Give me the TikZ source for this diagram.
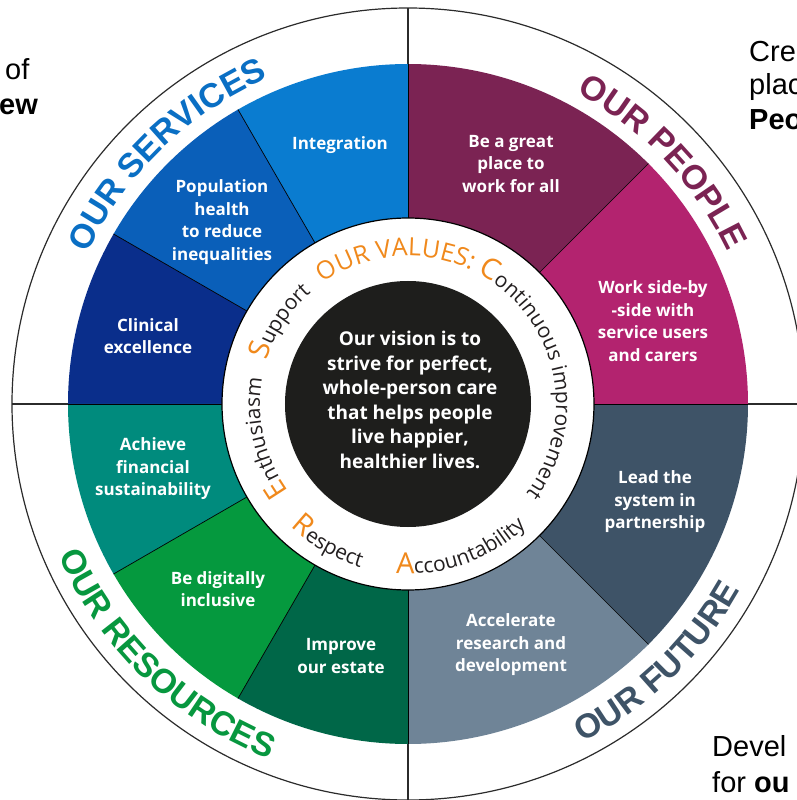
\documentclass[tikz,border=0pt]{standalone}
\usepackage{fontspec}
\setmainfont{Open Sans}
\newfontfamily\ringfont{Liberation Sans}
\newfontfamily\sidefont{Liberation Sans}
\usetikzlibrary{decorations.text}

% sector colours
\definecolor{cIntegration}{HTML}{0A7CD0}
\definecolor{cPopulation}{HTML}{0A5FB9}
\definecolor{cClinical}{HTML}{0A2E8B}
\definecolor{cFinancial}{HTML}{008B7D}
\definecolor{cDigital}{HTML}{05993E}
\definecolor{cEstate}{HTML}{006748}
\definecolor{cResearch}{HTML}{6F8497}
\definecolor{cSystem}{HTML}{3E5367}
\definecolor{cSideBySide}{HTML}{B3236F}
\definecolor{cGreatPlace}{HTML}{7B2353}
% heading colours
\definecolor{hServices}{HTML}{0A6FC4}
\definecolor{hPeople}{HTML}{7B2353}
\definecolor{hResources}{HTML}{07973F}
\definecolor{hFuture}{HTML}{3E5367}
% values ring
\definecolor{vOrange}{HTML}{F0891C}
\definecolor{vDark}{HTML}{231F20}
\definecolor{coreBlack}{HTML}{1E1E1C}
\definecolor{rimGrey}{HTML}{2B2B2B}

\newcommand\vInitial{\fontsize{29pt}{29pt}\selectfont\color{vOrange}}
\newcommand\vHead{\fontsize{25pt}{25pt}\selectfont\color{vOrange}}
\newcommand\vWord{\fontsize{21pt}{21pt}\selectfont\color{vDark}}
\newcommand\ringHead{\ringfont\bfseries\fontsize{34pt}{34pt}\selectfont}

\tikzset{
  seclabel/.style={text=white, font=\fontsize{17pt}{22.5pt}\selectfont\bfseries,
    align=center, inner sep=0pt},
  corelabel/.style={text=white, font=\fontsize{19pt}{24.5pt}\selectfont\bfseries,
    align=center, inner sep=0pt},
  sidetext/.style={font=\sidefont\fontsize{29pt}{29pt}\selectfont, anchor=base west,
    inner sep=0pt, text=black},
  divider/.style={draw=black, line width=0.7pt},
  rim/.style={draw=rimGrey, line width=1.2pt},
}

% ring sector between two angles
\newcommand\sector[3]{%
  \fill[#1] (#2:186pt) arc[start angle=#2, end angle=#3, radius=186pt]
    -- (#3:340pt) arc[start angle=#3, end angle=#2, radius=340pt] -- cycle;}

\begin{document}
\begin{tikzpicture}[x=1pt,y=1pt]
\useasboundingbox (-408,-396) rectangle (389,404);
\clip (-408,-396) rectangle (389,404);
\fill[white] (-408,-396) rectangle (389,404);

% outer rim and quadrant lines
\draw[rim] (0,0) circle[radius=396pt];
\foreach \a in {0,90,180,270} \draw[rim] (\a:340pt) -- (\a:396pt);

% coloured ring
\sector{cIntegration}{90}{120}
\sector{cPopulation}{120}{150}
\sector{cClinical}{150}{180}
\sector{cFinancial}{180}{210}
\sector{cDigital}{210}{240}
\sector{cEstate}{240}{270}
\sector{cResearch}{270}{315}
\sector{cSystem}{315}{360}
\sector{cSideBySide}{0}{45}
\sector{cGreatPlace}{45}{90}
\foreach \a in {0,45,90,120,150,180,210,240,270,315}
  \draw[divider] (\a:186pt) -- (\a:340pt);

% values ring and core
\fill[white] (0,0) circle[radius=186pt];
\draw[black, line width=1.2pt] (0,0) circle[radius=186pt];
\fill[coreBlack] (0,0) circle[radius=123pt];

% sector labels
\node[seclabel] (integration) at (-68,259) {Integration};
\node[seclabel] (population) at (-186,182) {Population\\health\\to reduce\\inequalities};
\node[seclabel] (clinical) at (-260,68) {Clinical\\excellence};
\node[seclabel] (greatplace) at (103,240) {Be a great\\place to\\work for all};
\node[seclabel] (sidebyside) at (245,83) {Work side-by\\-side with\\service users\\and carers};
\node[seclabel] (system) at (247,-98) {Lead the\\system in\\partnership};
\node[seclabel] (research) at (103,-241) {Accelerate\\research and\\development};
\node[seclabel] (estate) at (-67,-252) {Improve\\our estate};
\node[seclabel] (digital) at (-190,-185) {Be digitally\\inclusive};
\node[seclabel] (financial) at (-255,-65) {Achieve\\financial\\sustainability};

% vision statement
\node[corelabel] (vision) at (2,4) {Our vision is to\\strive for perfect,\\whole-person care\\that helps people\\live happier,\\healthier lives.};

% values written round the ring
\path[decorate, decoration={text along path, text align=center,
  text={|\vInitial|E|\vWord|nthusiasm}}]
  (234:148pt) arc[start angle=234, end angle=152, radius=148pt];
\path[decorate, decoration={text along path, text align=center,
  text={|\vInitial|S|\vWord|upport}}]
  (178:148pt) arc[start angle=178, end angle=116, radius=148pt];
\path[decorate, decoration={text along path, text align=center,
  text={|\vHead|OUR VALUES: |\vInitial|C|\vWord|ontinuous improvement}}]
  (140:148pt) arc[start angle=140, end angle=-52, radius=148pt];
\path[decorate, decoration={text along path, text align=center,
  text={|\vInitial|R|\vWord|espect}}]
  (210:170pt) arc[start angle=210, end angle=270, radius=170pt];
\path[decorate, decoration={text along path, text align=center,
  text={|\vInitial|A|\vWord|ccountability}}]
  (249:170pt) arc[start angle=249, end angle=331, radius=170pt];

% headings in the outer band
\path[decorate, decoration={text along path, text align=center,
  text={|\ringHead\color{hServices}|OUR SERVICES}}]
  (175:354pt) arc[start angle=175, end angle=93, radius=354pt];
\path[decorate, decoration={text along path, text align=center,
  text={|\ringHead\color{hPeople}|OUR PEOPLE}}]
  (85:354pt) arc[start angle=85, end angle=2, radius=354pt];
\path[decorate, decoration={text along path, text align=center,
  text={|\ringHead\color{hResources}|OUR RESOURCES}}]
  (185:381pt) arc[start angle=185, end angle=267, radius=381pt];
\path[decorate, decoration={text along path, text align=center,
  text={|\ringHead\color{hFuture}|OUR FUTURE}}]
  (273:381pt) arc[start angle=273, end angle=355, radius=381pt];

% surrounding text
\node[sidetext] (leftA) at (-403,324) {of};
\node[sidetext, font=\sidefont\bfseries\fontsize{29pt}{29pt}\selectfont] (leftB) at (-409,289) {ew};
\node[sidetext] (rightA) at (341,342) {Cre};
\node[sidetext] (rightB) at (341,309) {plac};
\node[sidetext, font=\sidefont\bfseries\fontsize{29pt}{29pt}\selectfont] (rightC) at (341,274) {Peo};
\node[sidetext] (bottomA) at (304,-352) {Devel};
\node[sidetext] (bottomB) at (304,-388) {for \textbf{ou}};
\end{tikzpicture}
\end{document}
